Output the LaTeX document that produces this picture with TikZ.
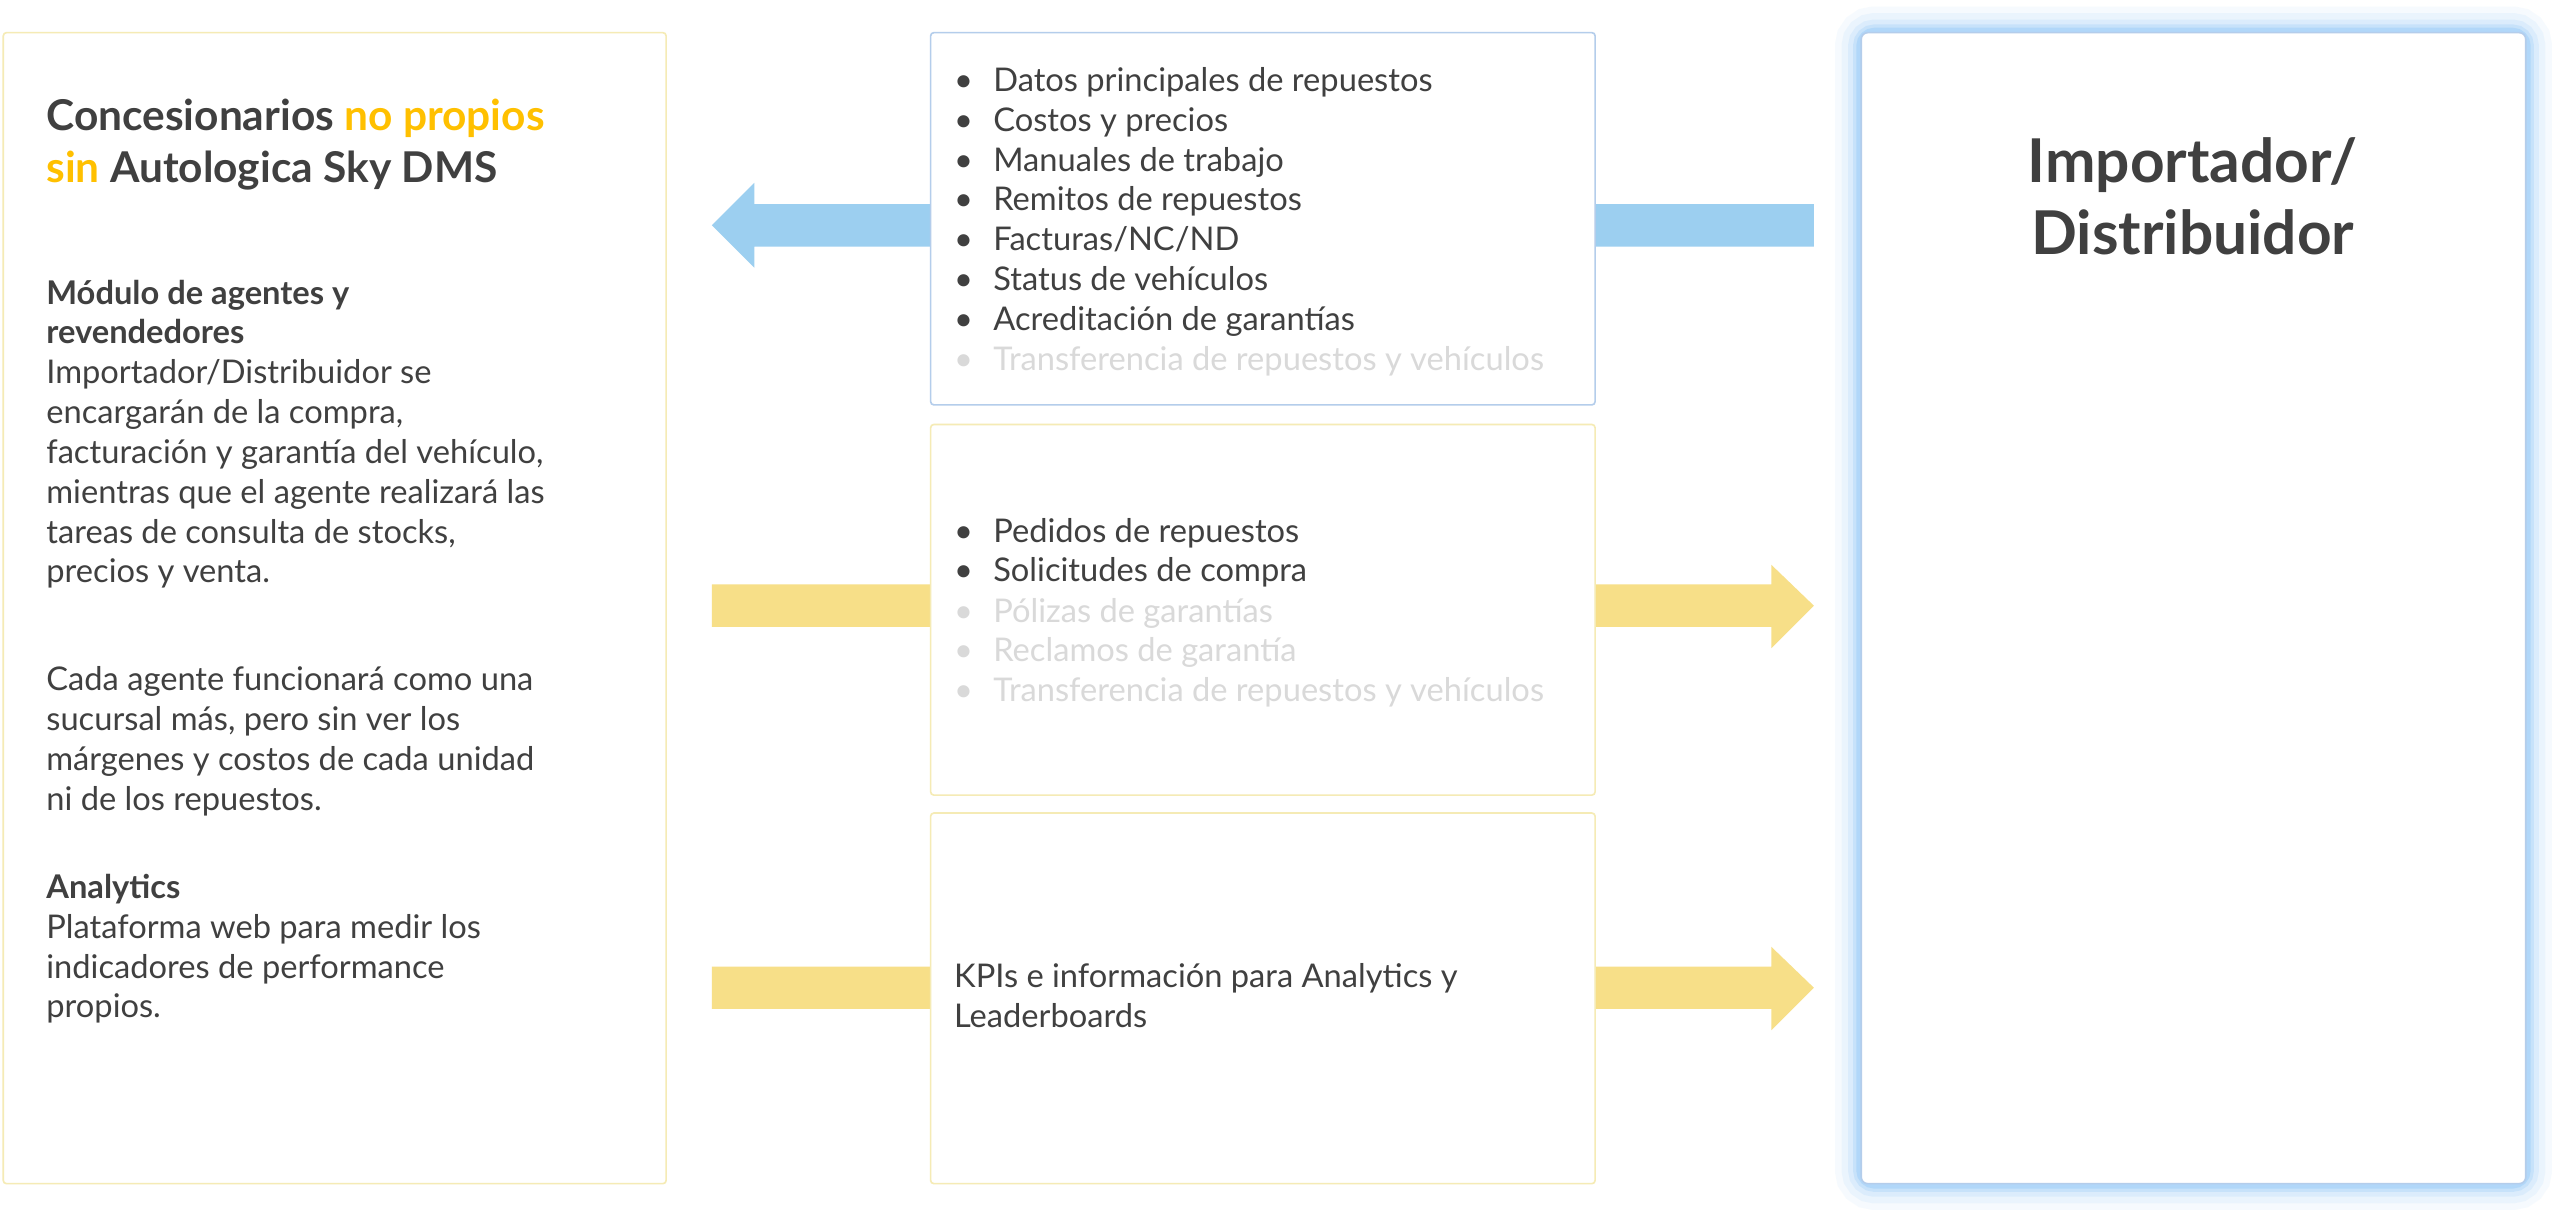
\documentclass[tikz,border=0pt]{standalone}
\usepackage{fontspec}
\setmainfont{Lato}
\usetikzlibrary{arrows.meta}
\definecolor{txt}{HTML}{404040}
\definecolor{gry}{HTML}{D9D9D9}
\definecolor{ttlY}{HTML}{FFC000}
\definecolor{arB}{HTML}{9CCFF0}
\definecolor{arY}{HTML}{F7DF88}
\definecolor{bdY}{HTML}{F5EBB5}
\definecolor{bdB}{HTML}{B4CDEB}
\definecolor{glow}{HTML}{5AAEF5}
\begin{document}
\begin{tikzpicture}[x=0.5pt,y=-0.5pt,
  panel/.style={draw=#1,line width=0.5pt,rounded corners=1pt},
  fatarrow/.style={draw=none,fill=#1},
  body/.style={text=txt,font=\fontsize{10}{12.2}\selectfont,align=left,anchor=north west,inner sep=0pt},
  itm/.style={text=txt,font=\fontsize{10}{12.2}\selectfont,anchor=base west,inner sep=0pt},
  dim/.style={itm,text=gry}]
\useasboundingbox[fill=white] (0,0) rectangle (1568,747);
% arrows
\fill[arB] (1111,125) -- (462,125) -- (462,112) -- (436,138) -- (462,164) -- (462,151) -- (1111,151) -- cycle;
\fill[arY] (436,358) -- (1085,358) -- (1085,346) -- (1111,371) -- (1085,397) -- (1085,384) -- (436,384) -- cycle;
\fill[arY] (436,592) -- (1085,592) -- (1085,580) -- (1111,605) -- (1085,631) -- (1085,618) -- (436,618) -- cycle;
% boxes
\draw[panel=bdY,fill=white] (2,20) rectangle (408,725);
\draw[panel=bdB,fill=white] (570,20) rectangle (977,248);
\draw[panel=bdY,fill=white] (570,260) rectangle (977,487);
\draw[panel=bdY,fill=white] (570,498) rectangle (977,725);
\foreach \w/\o in {16/0.05,12/0.07,8/0.1,5/0.15,3/0.2}
  \draw[glow,opacity=\o,line width=\w pt,rounded corners=4pt] (1140,20) rectangle (1547,725);
\draw[draw=bdB,fill=white,line width=0.5pt,rounded corners=2pt] (1140,20) rectangle (1547,725);
% right title
\node[text=txt,font=\fontsize{18.5}{22}\selectfont\bfseries,align=center] (rt) at (1343,120) {Importador/\\Distribuidor};
% left text
\node[text=txt,font=\fontsize{13}{16}\selectfont\bfseries,align=left,anchor=north west,inner sep=0pt] (lt) at (28,60)
  {Concesionarios \textcolor{ttlY}{no propios}\\\textcolor{ttlY}{sin} Autologica Sky DMS};
\node[body] (lb1) at (28,171) {\textbf{Módulo de agentes y}\\\textbf{revendedores}\\Importador/Distribuidor se\\encargarán de la compra,\\facturación y garantía del vehículo,\\mientras que el agente realizará las\\tareas de consulta de stocks,\\precios y venta.};
\node[body] (lb2) at (28,408) {Cada agente funcionará como una\\sucursal más, pero sin ver los\\márgenes y costos de cada unidad\\ni de los repuestos.};
\node[body] (lb3) at (28,535) {\textbf{Analytics}\\Plataforma web para medir los\\indicadores de performance\\propios.};
% box 1 items
\foreach \t [count=\i] in {Datos principales de repuestos,Costos y precios,Manuales de trabajo,Remitos de repuestos,Facturas/NC/ND,Status de vehículos,Acreditación de garantías}{
  \node[itm] (a\i) at (608,{56+24.4*(\i-1)}) {\t};
  \node[itm] at (584,{56+24.4*(\i-1)}) {•};}
\node[dim] (a8) at (608,227) {Transferencia de repuestos y vehículos};
\node[dim] at (584,227) {•};
% box 2 items
\foreach \t [count=\i] in {Pedidos de repuestos,Solicitudes de compra}{
  \node[itm] (b\i) at (608,{332+24.4*(\i-1)}) {\t};
  \node[itm] at (584,{332+24.4*(\i-1)}) {•};}
\foreach \t [count=\i] in {Pólizas de garantías,Reclamos de garantía,Transferencia de repuestos y vehículos}{
  \node[dim] (c\i) at (608,{381+24.4*(\i-1)}) {\t};
  \node[dim] at (584,{381+24.4*(\i-1)}) {•};}
% box 3
\node[body] (k) at (584,590) {KPIs e información para Analytics y\\Leaderboards};
\end{tikzpicture}
\end{document}
